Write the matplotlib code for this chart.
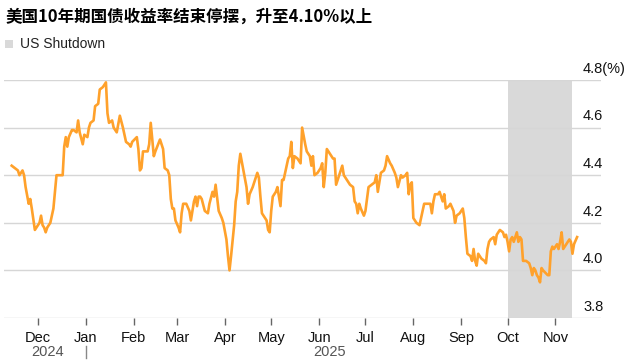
import matplotlib
matplotlib.use("Agg")
import matplotlib.pyplot as plt
import matplotlib.dates as mdates
import matplotlib.transforms as mtransforms
import pandas as pd

# 10y US Treasury yield (%)
dates = [
    "2024-11-14", "2024-11-16", "2024-11-18", "2024-11-19", "2024-11-20", "2024-11-21",
    "2024-11-22", "2024-11-23", "2024-11-25", "2024-11-26", "2024-11-27", "2024-11-29",
    "2024-12-01", "2024-12-02", "2024-12-03", "2024-12-04", "2024-12-05", "2024-12-06",
    "2024-12-07", "2024-12-09", "2024-12-11", "2024-12-12", "2024-12-13", "2024-12-15",
    "2024-12-17", "2024-12-18", "2024-12-19", "2024-12-20", "2024-12-21", "2024-12-23",
    "2024-12-24", "2024-12-26", "2024-12-27", "2024-12-28", "2024-12-30", "2024-12-31",
    "2025-01-02", "2025-01-03", "2025-01-04", "2025-01-06", "2025-01-07", "2025-01-09",
    "2025-01-10", "2025-01-12", "2025-01-13", "2025-01-14", "2025-01-15", "2025-01-16",
    "2025-01-18", "2025-01-19", "2025-01-21", "2025-01-23", "2025-01-25", "2025-01-27",
    "2025-01-29", "2025-01-30", "2025-01-31", "2025-02-03", "2025-02-04", "2025-02-05",
    "2025-02-06", "2025-02-07", "2025-02-10", "2025-02-11", "2025-02-12", "2025-02-14",
    "2025-02-15", "2025-02-18", "2025-02-20", "2025-02-21", "2025-02-23", "2025-02-24",
    "2025-02-25", "2025-02-26", "2025-02-27", "2025-02-28", "2025-03-02", "2025-03-03",
    "2025-03-04", "2025-03-05", "2025-03-07", "2025-03-09", "2025-03-10", "2025-03-12",
    "2025-03-13", "2025-03-14", "2025-03-15", "2025-03-16", "2025-03-17", "2025-03-19",
    "2025-03-21", "2025-03-22", "2025-03-24", "2025-03-25", "2025-03-26", "2025-03-28",
    "2025-03-30", "2025-03-31", "2025-04-02", "2025-04-03", "2025-04-04", "2025-04-05",
    "2025-04-07", "2025-04-08", "2025-04-09", "2025-04-10", "2025-04-11", "2025-04-13",
    "2025-04-15", "2025-04-16", "2025-04-17", "2025-04-19", "2025-04-21", "2025-04-22",
    "2025-04-23", "2025-04-24", "2025-04-25", "2025-04-27", "2025-04-28", "2025-04-29",
    "2025-04-30", "2025-05-01", "2025-05-02", "2025-05-04", "2025-05-05", "2025-05-07",
    "2025-05-08", "2025-05-09", "2025-05-10", "2025-05-12", "2025-05-13", "2025-05-14",
    "2025-05-15", "2025-05-16", "2025-05-18", "2025-05-20", "2025-05-21", "2025-05-23",
    "2025-05-24", "2025-05-26", "2025-05-27", "2025-05-28", "2025-05-29", "2025-05-31",
    "2025-06-02", "2025-06-03", "2025-06-04", "2025-06-05", "2025-06-06", "2025-06-08",
    "2025-06-10", "2025-06-11", "2025-06-12", "2025-06-14", "2025-06-16", "2025-06-17",
    "2025-06-18", "2025-06-19", "2025-06-21", "2025-06-23", "2025-06-24", "2025-06-25",
    "2025-06-26", "2025-06-27", "2025-06-28", "2025-06-30", "2025-07-01", "2025-07-03",
    "2025-07-05", "2025-07-07", "2025-07-08", "2025-07-09", "2025-07-11", "2025-07-13",
    "2025-07-14", "2025-07-15", "2025-07-17", "2025-07-18", "2025-07-20", "2025-07-21",
    "2025-07-22", "2025-07-24", "2025-07-25", "2025-07-27", "2025-07-28", "2025-07-29",
    "2025-07-30", "2025-07-31", "2025-08-01", "2025-08-03", "2025-08-05", "2025-08-06",
    "2025-08-07", "2025-08-08", "2025-08-10", "2025-08-12", "2025-08-13", "2025-08-14",
    "2025-08-15", "2025-08-17", "2025-08-18", "2025-08-20", "2025-08-21", "2025-08-22",
    "2025-08-24", "2025-08-25", "2025-08-27", "2025-08-28", "2025-08-29", "2025-08-31",
    "2025-09-02", "2025-09-03", "2025-09-04", "2025-09-05", "2025-09-07", "2025-09-08",
    "2025-09-09", "2025-09-10", "2025-09-11", "2025-09-12", "2025-09-14", "2025-09-16",
    "2025-09-17", "2025-09-18", "2025-09-19", "2025-09-20", "2025-09-22", "2025-09-23",
    "2025-09-24", "2025-09-26", "2025-09-28", "2025-09-29", "2025-09-30", "2025-10-01",
    "2025-10-02", "2025-10-03", "2025-10-04", "2025-10-05", "2025-10-07", "2025-10-08",
    "2025-10-09", "2025-10-10", "2025-10-11", "2025-10-13", "2025-10-15", "2025-10-16",
    "2025-10-17", "2025-10-18", "2025-10-19", "2025-10-20", "2025-10-21", "2025-10-22",
    "2025-10-23", "2025-10-24", "2025-10-27", "2025-10-28", "2025-10-29", "2025-10-30",
    "2025-10-31", "2025-11-02", "2025-11-03", "2025-11-04", "2025-11-05", "2025-11-06",
    "2025-11-08", "2025-11-09", "2025-11-10", "2025-11-11", "2025-11-12", "2025-11-13",
    "2025-11-15",
]
yields = [
    4.44, 4.43, 4.42, 4.40, 4.41, 4.42, 4.40, 4.35, 4.28, 4.30, 4.26, 4.17,
    4.19, 4.20, 4.23, 4.19, 4.18, 4.16, 4.18, 4.20, 4.26, 4.33, 4.40, 4.40,
    4.40, 4.52, 4.56, 4.52, 4.56, 4.59, 4.59, 4.58, 4.63, 4.58, 4.53, 4.57,
    4.56, 4.60, 4.62, 4.63, 4.69, 4.70, 4.76, 4.77, 4.78, 4.79, 4.66, 4.62,
    4.63, 4.60, 4.58, 4.65, 4.60, 4.54, 4.53, 4.52, 4.54, 4.56, 4.51, 4.42,
    4.43, 4.50, 4.50, 4.53, 4.62, 4.48, 4.50, 4.55, 4.51, 4.43, 4.42, 4.40,
    4.30, 4.26, 4.26, 4.21, 4.18, 4.16, 4.24, 4.28, 4.28, 4.25, 4.21, 4.29,
    4.31, 4.27, 4.31, 4.31, 4.30, 4.25, 4.24, 4.28, 4.33, 4.31, 4.36, 4.25,
    4.22, 4.20, 4.13, 4.06, 4.00, 4.06, 4.19, 4.29, 4.33, 4.44, 4.49, 4.42,
    4.35, 4.28, 4.32, 4.35, 4.39, 4.41, 4.39, 4.31, 4.24, 4.22, 4.21, 4.17,
    4.16, 4.25, 4.31, 4.33, 4.35, 4.27, 4.38, 4.38, 4.41, 4.47, 4.48, 4.54,
    4.43, 4.48, 4.47, 4.45, 4.60, 4.53, 4.50, 4.48, 4.44, 4.48, 4.40, 4.41,
    4.43, 4.45, 4.35, 4.41, 4.51, 4.49, 4.47, 4.47, 4.36, 4.40, 4.44, 4.40,
    4.39, 4.38, 4.36, 4.35, 4.29, 4.28, 4.24, 4.28, 4.26, 4.23, 4.25, 4.35,
    4.36, 4.37, 4.40, 4.33, 4.41, 4.42, 4.44, 4.48, 4.45, 4.44, 4.41, 4.39,
    4.35, 4.40, 4.39, 4.40, 4.41, 4.32, 4.36, 4.37, 4.22, 4.20, 4.19, 4.22,
    4.25, 4.28, 4.28, 4.28, 4.24, 4.29, 4.32, 4.32, 4.33, 4.29, 4.32, 4.26,
    4.27, 4.28, 4.25, 4.20, 4.23, 4.24, 4.26, 4.22, 4.14, 4.07, 4.06, 4.04,
    4.09, 4.04, 4.02, 4.07, 4.05, 4.04, 4.03, 4.09, 4.12, 4.13, 4.14, 4.11,
    4.15, 4.17, 4.16, 4.14, 4.15, 4.12, 4.08, 4.13, 4.14, 4.12, 4.16, 4.12,
    4.14, 4.13, 4.04, 4.04, 4.03, 4.01, 3.98, 4.01, 4.00, 3.98, 3.97, 3.95,
    4.01, 4.00, 3.98, 3.98, 4.08, 4.10, 4.09, 4.11, 4.09, 4.12, 4.16, 4.09,
    4.11, 4.12, 4.13, 4.12, 4.07, 4.11, 4.14,
]
shutdown = ("2025-10-01", "2025-11-12")
yticks = [3.8, 4.0, 4.2, 4.4, 4.6, 4.8]
ytick_labels = ["3.8", "4.0", "4.2", "4.4", "4.6", "4.8(%)"]
title = "美国10年期国债收益率结束停摆，升至4.10%以上"
legend_label = "US Shutdown"
years = [("2024", "2024-12-07"), ("2025", "2025-06-08")]

LINE = "#FFA12B"
SHADE = "#D9D9D9"
GRID = "#D6D6D6"
TEXT = "#111111"
sans = ["Liberation Sans", "DejaVu Sans"]

x = pd.to_datetime(dates)

fig = plt.figure(figsize=(6.31, 3.61), dpi=100)
ax = fig.add_axes([0.0063, 0.1191, 0.9462, 0.6593])

ax.axvspan(pd.Timestamp(shutdown[0]), pd.Timestamp(shutdown[1]), color=SHADE, lw=0, zorder=0)
ax.plot(x, yields, color=LINE, lw=1.9, solid_joinstyle="round", zorder=3)

ax.set_xlim(pd.Timestamp("2024-11-09"), pd.Timestamp("2025-11-30 12:00"))
ax.set_ylim(3.8, 4.8)
ax.set_yticks(yticks)
ax.yaxis.grid(True, color=GRID, lw=1.0)
ax.tick_params(axis="y", left=False, labelleft=False)
for s in ax.spines.values():
    s.set_visible(False)
ax.set_axisbelow(True)

# y labels sit just above each gridline on the right
for v, lab in zip(yticks, ytick_labels):
    ax.annotate(lab, xy=(0.97, v), xycoords=("axes fraction", "data"),
                xytext=(0, 3), textcoords="offset points", ha="left", va="bottom",
                fontsize=10.5, color=TEXT, family=sans, annotation_clip=False)

ax.xaxis.set_major_locator(mdates.MonthLocator())
ax.xaxis.set_major_formatter(mdates.DateFormatter("%b"))
ax.tick_params(axis="x", length=5, width=1, color="#666666", pad=4,
               labelsize=10.5, labelcolor=TEXT)
for t in ax.get_xticklabels():
    t.set_family(sans)

# year row under the months
trans = mtransforms.blended_transform_factory(ax.transData, ax.transAxes)
for yr, pos in years:
    ax.text(pd.Timestamp(pos), -0.143, yr, transform=trans, ha="center", va="center",
            fontsize=10.5, color="#555555", family=sans)
ax.plot([pd.Timestamp("2025-01-01")] * 2, [-0.118, -0.168], transform=trans,
        color="#888888", lw=1, clip_on=False)

fig.text(0.008, 0.955, title, ha="left", va="center", fontsize=11.9, fontweight="bold",
         color="#000000", family=["Noto Sans CJK SC", "DejaVu Sans"])
fig.patches.append(plt.Rectangle((0.008, 0.867), 0.0127, 0.022, transform=fig.transFigure,
                                 color=SHADE, lw=0))
fig.text(0.031, 0.879, legend_label, ha="left", va="center", fontsize=10,
         color="#222222", family=sans)

fig.savefig("out.png", dpi=100, facecolor="white")
